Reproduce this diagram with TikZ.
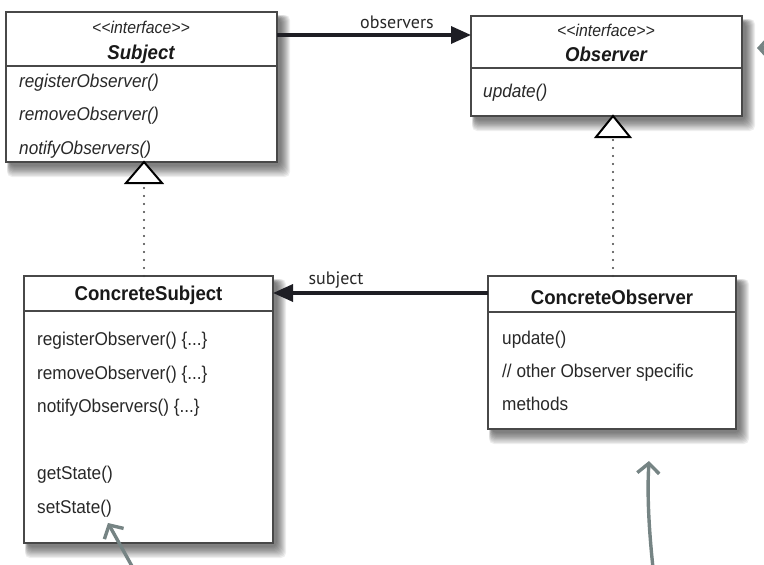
\documentclass[tikz,border=0pt]{standalone}
\usepackage{fontspec}
\setmainfont{Liberation Sans}
\newfontfamily\umlfont[FakeStretch=0.93]{Liberation Sans}
\newfontfamily\lblfont{PT Sans}
\usetikzlibrary{arrows.meta,calc}
\definecolor{boxline}{RGB}{72,72,72}
\definecolor{txt}{RGB}{40,40,40}
\definecolor{arrline}{RGB}{30,30,36}
\definecolor{handgray}{RGB}{118,132,132}
\newcommand\boxshadow[4]{%
  \foreach \r in {1,...,10}{%
    \fill[black,opacity=0.065,rounded corners=5pt] (#1+4-\r*0.3,#2+6-\r*0.3) rectangle (#3+3+\r,#4+3+\r*1.2);}}
\begin{document}
\begin{tikzpicture}[x=1pt,y=-1pt,
  box/.style={draw=boxline,line width=1.5pt,fill=white,outer sep=0pt,inner sep=0pt,anchor=north west},
  sepline/.style={draw=boxline,line width=1.3pt},
  mtxt/.style={anchor=base west,inner sep=0pt,text=txt,font=\umlfont\fontsize{18.5}{20}\selectfont},
  itxt/.style={mtxt,font=\umlfont\itshape\fontsize{18.5}{20}\selectfont},
  stereo/.style={anchor=base,inner sep=0pt,text=txt,font=\umlfont\itshape\fontsize{17}{18}\selectfont},
  ttl/.style={anchor=base,inner sep=0pt,text=black!90,font=\umlfont\bfseries\fontsize{20}{22}\selectfont},
  ittl/.style={ttl,font=\umlfont\bfseries\itshape\fontsize{20}{22}\selectfont},
  assoc/.style={draw=arrline,line width=3.4pt,-{Triangle[length=20pt,width=17pt]}},
  lbl/.style={inner sep=0pt,text=txt,font=\lblfont\fontsize{18}{20}\selectfont},
  realize/.style={draw=black!75,line width=2.4pt,dash pattern=on 0pt off 8pt,line cap=round},
  hollow/.style={draw=black,line width=2pt,fill=white,line join=miter},
  hand/.style={draw=handgray,line width=3.4pt,line cap=round,line join=round,-{Straight Barb[length=10pt,width=22pt]}}
]
\useasboundingbox (0,0) rectangle (764,565);
\clip (0,0) rectangle (764,565);

% shadows
\boxshadow{6}{12}{277}{162}
\boxshadow{471}{16}{742}{116}
\boxshadow{24}{276}{273}{543}
\boxshadow{488}{276}{736}{429}

% Subject
\node[box,minimum width=271pt,minimum height=150pt] (subj) at (6,12) {};
\coordinate (s66) at (0,66);
\draw[sepline] (subj.west |- s66) -- (subj.east |- s66);
\node[stereo] (subjst) at (141,33) {<<interface>>};
\node[ittl] (subjt) at (141,59) {Subject};
\node[itxt] (sm1) at (19,87) {registerObserver()};
\node[itxt] (sm2) at (19,120) {removeObserver()};
\node[itxt] (sm3) at (19,154) {notifyObservers()};

% Observer
\node[box,minimum width=271pt,minimum height=100pt] (obs) at (471,16) {};
\coordinate (o68) at (0,68);
\draw[sepline] (obs.west |- o68) -- (obs.east |- o68);
\node[stereo] (obsst) at (606,36) {<<interface>>};
\node[ittl] (obst) at (606,61) {Observer};
\node[itxt] (om1) at (483,97) {update()};

% ConcreteSubject
\node[box,minimum width=249pt,minimum height=267pt] (csub) at (24,276) {};
\coordinate (c311) at (0,311);
\draw[sepline] (csub.west |- c311) -- (csub.east |- c311);
\node[ttl] (csubt) at (148.5,300) {ConcreteSubject};
\node[mtxt] (cm1) at (37,345) {registerObserver() \{...\}};
\node[mtxt] (cm2) at (37,379) {removeObserver() \{...\}};
\node[mtxt] (cm3) at (37,412) {notifyObservers() \{...\}};
\node[mtxt] (cm4) at (37,479) {getState()};
\node[mtxt] (cm5) at (37,513) {setState()};

% ConcreteObserver
\node[box,minimum width=248pt,minimum height=153pt] (cobs) at (488,276) {};
\coordinate (c312) at (0,312);
\draw[sepline] (cobs.west |- c312) -- (cobs.east |- c312);
\node[ttl] (cobst) at (612,304) {ConcreteObserver};
\node[mtxt] (om2) at (502,344) {update()};
\node[mtxt] (om3) at (502,377) {// other Observer specific};
\node[mtxt] (om4) at (502,410) {methods};

% realization (dotted + hollow triangle)
\coordinate (tri1) at (144,183);
\draw[realize] (csub.north -| tri1) -- (tri1);
\draw[hollow] (126,183) -- (subj.south -| tri1) -- (162,183) -- cycle;
\coordinate (tri2) at (613,137);
\draw[realize] (cobs.north -| tri2) -- (tri2);
\draw[hollow] (596,137) -- (obs.south -| tri2) -- (630,137) -- cycle;

% associations
\coordinate (a35) at (0,35);
\draw[assoc] (subj.east |- a35) -- (obs.west |- a35);
\node[lbl] (obslbl) at (397,22) {observers};
\coordinate (a293) at (0,293);
\draw[assoc] (cobs.west |- a293) -- (csub.east |- a293);
\node[lbl] (sublbl) at (336,280) {subject};

% hand-drawn gray pointers
\coordinate (h1s) at (133,568);
\coordinate (h1e) at (108,523);
\draw[hand] (h1s) -- (h1e);
\coordinate (h2s) at (653,568);
\coordinate (h2e) at (649,461);
\draw[hand] (h2s) .. controls (649,530) and (647,495) .. (h2e);
\coordinate (h3s) at (775,48);
\coordinate (h3e) at (757,48);
\draw[hand] (h3s) -- (h3e);
\end{tikzpicture}
\end{document}
